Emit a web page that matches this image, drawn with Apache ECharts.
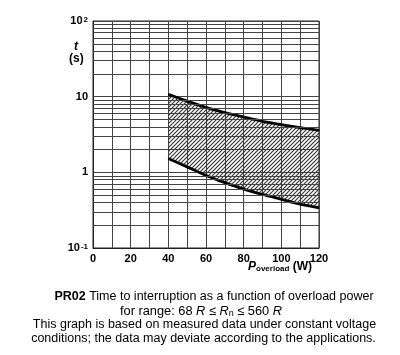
<!DOCTYPE html>
<html><head><meta charset="utf-8">
<script src="https://cdn.jsdelivr.net/npm/echarts@6/dist/echarts.min.js"></script>
<style>html,body{margin:0;padding:0;background:#fff}#c{width:400px;height:355px}</style>
</head><body><div id="c"></div>
<script>
// Data
var powerW = [40, 50, 60, 70, 80, 90, 100, 110, 120];
var tUpper = [10.7, 8.75, 7.2, 6.15, 5.37, 4.72, 4.27, 3.89, 3.59];
var tLower = [1.52, 1.18, 0.91, 0.73, 0.60, 0.51, 0.44, 0.38, 0.34];
var xTicks = [0, 20, 40, 60, 80, 100, 120];
var yDecades = [0.1, 1, 10, 100];
var minorMantissas = [2, 3, 4, 5, 6, 7, 8, 9];

var FONT = '"Liberation Sans", Arial, sans-serif';
var GRID_C = '#444';

// hatch pattern
var pat = document.createElement('canvas');
pat.width = 4; pat.height = 4;
var pc = pat.getContext('2d');
pc.strokeStyle = '#333';
pc.lineWidth = 1.1;
pc.beginPath();
pc.moveTo(-1, 5); pc.lineTo(5, -1);
pc.moveTo(-1, 1); pc.lineTo(1, -1);
pc.moveTo(3, 5); pc.lineTo(5, 3);
pc.stroke();

var minorLines = [];
yDecades.slice(0, 3).forEach(function (d) {
  minorMantissas.forEach(function (m) { minorLines.push({ yAxis: +(d * m).toPrecision(3) }); });
});

var upperPts = powerW.map(function (x, i) { return [x, tUpper[i]]; });
var lowerPts = powerW.map(function (x, i) { return [x, tLower[i]]; });

var chart = echarts.init(document.getElementById('c'), null, { renderer: 'canvas' });
chart.setOption({
  animation: false,
  grid: { left: 93, top: 21, right: 81, bottom: 107, show: true, borderColor: '#222', borderWidth: 1 },
  xAxis: {
    type: 'value', min: 0, max: 120, interval: 10,
    axisLine: { show: true, lineStyle: { color: '#222', width: 1 } },
    axisTick: { show: false },
    splitLine: { show: true, lineStyle: { color: GRID_C, width: 1 } },
    axisLabel: {
      margin: 5, color: '#000', fontFamily: FONT, fontWeight: 'bold', fontSize: 11,
      formatter: function (v) { return xTicks.indexOf(v) >= 0 ? String(v) : ''; }
    }
  },
  yAxis: {
    type: 'log', logBase: 10, min: 0.1, max: 100,
    axisLine: { show: true, lineStyle: { color: '#222', width: 1 } },
    axisTick: { show: false },
    splitLine: { show: true, lineStyle: { color: GRID_C, width: 1 } },
    axisLabel: {
      margin: 5, color: '#000',
      formatter: function (v) {
        if (Math.abs(v - 100) < 1e-6) return '{b|10}{s|2}';
        if (Math.abs(v - 10) < 1e-6) return '{b|10}';
        if (Math.abs(v - 1) < 1e-6) return '{b|1}';
        if (Math.abs(v - 0.1) < 1e-6) return '{b|10}{s|-1}';
        return '';
      },
      rich: {
        b: { fontFamily: FONT, fontWeight: 'bold', fontSize: 11, color: '#000' },
        s: { fontFamily: FONT, fontWeight: 'bold', fontSize: 8, color: '#000', verticalAlign: 'top', padding: [0, 0, 0, 1] }
      }
    }
  },
  series: [
    {
      type: 'line', data: [], silent: true,
      markLine: {
        silent: true, symbol: 'none', label: { show: false },
        lineStyle: { color: GRID_C, width: 1, type: 'solid' },
        data: minorLines, animation: false
      }
    },
    {
      type: 'custom', silent: true, clip: true,
      data: [0],
      renderItem: function (params, api) {
        var pts = [];
        upperPts.forEach(function (p) { pts.push(api.coord(p)); });
        for (var i = lowerPts.length - 1; i >= 0; i--) pts.push(api.coord(lowerPts[i]));
        return { type: 'polygon', shape: { points: pts }, style: { fill: { image: pat, repeat: 'repeat' }, stroke: null } };
      },
      z: 3
    },
    {
      type: 'line', data: upperPts, showSymbol: false, smooth: 0.3, silent: true,
      lineStyle: { color: '#000', width: 2.8 }, z: 4
    },
    {
      type: 'line', data: lowerPts, showSymbol: false, smooth: 0.3, silent: true,
      lineStyle: { color: '#000', width: 2.8 }, z: 4
    }
  ],
  graphic: [
    { type: 'text', left: 74, top: 41, style: { text: 't', font: 'italic bold 12px ' + FONT, fill: '#000' } },
    { type: 'text', left: 69, top: 53, style: { text: '(s)', font: 'bold 12px ' + FONT, fill: '#000' } },
    { type: 'text', left: 248, top: 261, style: {
        text: '{p|P}{sub|overload}{w| (W)}',
        rich: {
          p: { fontFamily: FONT, fontStyle: 'italic', fontWeight: 'bold', fontSize: 12, fill: '#000' },
          sub: { fontFamily: FONT, fontWeight: 'bold', fontSize: 8, fill: '#000', verticalAlign: 'bottom' },
          w: { fontFamily: FONT, fontWeight: 'bold', fontSize: 12, fill: '#000' }
        }
    } },
    { type: 'text', x: 214, y: 290, style: {
        text: '{b|PR02} Time to interruption as a function of overload power',
        textAlign: 'center',
        rich: {
          b: { fontFamily: FONT, fontWeight: 'bold', fontSize: 12.5, fill: '#000' }
        },
        fontFamily: FONT, fontSize: 12.5, fill: '#000'
    } },
    { type: 'text', x: 201, y: 305, style: {
        text: 'for range: 68 {i|R} \u2264 {i|R}{sub|n} \u2264 560 {i|R}',
        textAlign: 'center',
        rich: {
          i: { fontFamily: FONT, fontStyle: 'italic', fontSize: 12.8, fill: '#000' },
          sub: { fontFamily: FONT, fontSize: 9, fill: '#000', verticalAlign: 'bottom' }
        },
        fontFamily: FONT, fontSize: 12.8, fill: '#000'
    } },
    { type: 'text', x: 204.5, y: 318, style: {
        text: 'This graph is based on measured data under constant voltage',
        textAlign: 'center', font: '12.5px ' + FONT, fill: '#000'
    } },
    { type: 'text', x: 203.5, y: 332, style: {
        text: 'conditions; the data may deviate according to the applications.',
        textAlign: 'center', font: '12.5px ' + FONT, fill: '#000'
    } }
  ]
});
</script></body></html>
